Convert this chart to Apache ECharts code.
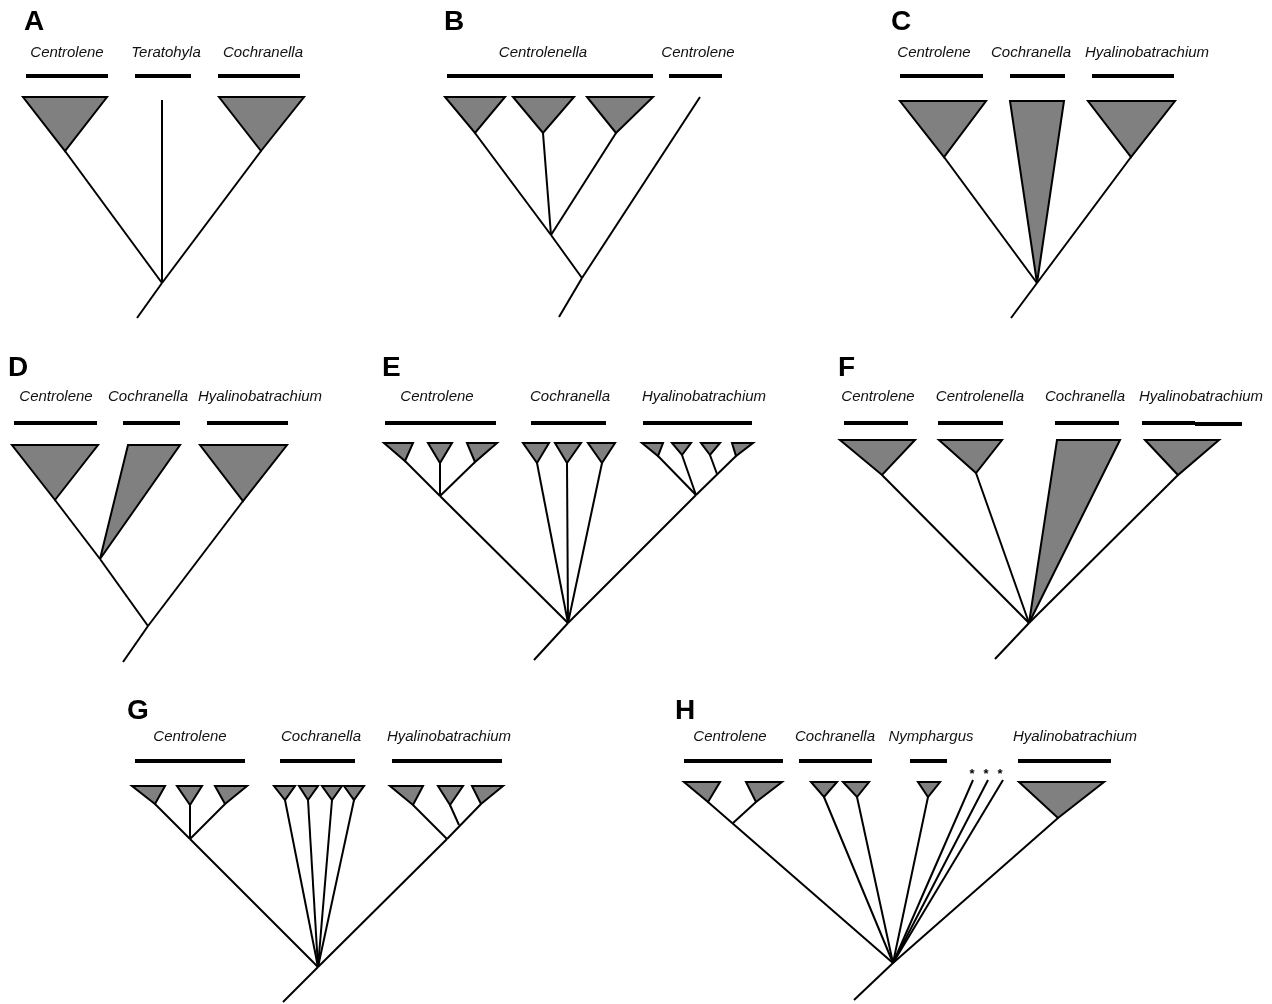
<!DOCTYPE html>
<html>
<head>
<meta charset="utf-8">
<script src="https://cdn.jsdelivr.net/npm/echarts@6/dist/echarts.min.js"></script>
<style>
  html, body { margin: 0; padding: 0; background: #fff; }
  #main { width: 1272px; height: 1004px; }
</style>
</head>
<body>
<div id="main"></div>
<script>
// figure is laid out in its own units: x 0..1272, y 0..1004 (y grows downward)

// panel letters: [letter, left x, centre y]
const panelLetters = [
  ['A', 24, 22], ['B', 444, 22], ['C', 891, 22],
  ['D', 8, 368], ['E', 382, 368], ['F', 838, 368],
  ['G', 127, 711], ['H', 675, 711]
];

// genus names: [name, centre x, centre y]
const genusA = [['Centrolene', 67, 53], ['Teratohyla', 166, 53], ['Cochranella', 263, 53]];
const genusB = [['Centrolenella', 543, 53], ['Centrolene', 698, 53]];
const genusC = [['Centrolene', 934, 53], ['Cochranella', 1031, 53], ['Hyalinobatrachium', 1147, 53]];
const genusD = [['Centrolene', 56, 397], ['Cochranella', 148, 397], ['Hyalinobatrachium', 260, 397]];
const genusE = [['Centrolene', 437, 397], ['Cochranella', 570, 397], ['Hyalinobatrachium', 704, 397]];
const genusF = [['Centrolene', 878, 397], ['Centrolenella', 980, 397], ['Cochranella', 1085, 397], ['Hyalinobatrachium', 1201, 397]];
const genusG = [['Centrolene', 190, 737], ['Cochranella', 321, 737], ['Hyalinobatrachium', 449, 737]];
const genusH = [['Centrolene', 730, 737], ['Cochranella', 835, 737], ['Nymphargus', 931, 737], ['Hyalinobatrachium', 1075, 737]];

// genus bars: [x start, x end, y]
const barsA = [[26, 108, 76], [135, 191, 76], [218, 300, 76]];
const barsB = [[447, 653, 76], [669, 722, 76]];
const barsC = [[900, 983, 76], [1010, 1065, 76], [1092, 1174, 76]];
const barsD = [[14, 97, 423], [123, 180, 423], [207, 288, 423]];
const barsE = [[385, 496, 423], [531, 606, 423], [643, 752, 423]];
const barsF = [[844, 908, 423], [938, 1003, 423], [1055, 1119, 423], [1142, 1195, 423], [1195, 1242, 424]];
const barsG = [[135, 245, 761], [280, 355, 761], [392, 502, 761]];
const barsH = [[684, 783, 761], [799, 872, 761], [910, 947, 761], [1018, 1111, 761]];

// collapsed clades (grey triangles): [left x, right x, top y, apex x, apex y]
const cladesA = [[23, 107, 97, 65, 151], [219, 304, 97, 261, 151]];
const cladesB = [[445, 505, 97, 475, 133], [513, 574, 97, 543, 133], [587, 653, 97, 616, 133]];
const cladesC = [[900, 986, 101, 944, 157], [1010, 1064, 101, 1037, 283], [1088, 1175, 101, 1131, 157]];
const cladesD = [[12, 98, 445, 55, 500], [128, 180, 445, 100, 559], [200, 287, 445, 243, 501]];
const cladesE = [
  [384, 413, 443, 405, 461], [428, 452, 443, 440, 463], [467, 497, 443, 475, 462],
  [523, 549, 443, 537, 463], [555, 581, 443, 567, 463], [588, 615, 443, 602, 463],
  [642, 663, 443, 658, 456], [672, 691, 443, 682, 455], [701, 720, 443, 710, 455], [732, 753, 443, 736, 456]
];
const cladesF = [[840, 915, 440, 882, 475], [939, 1002, 440, 976, 473], [1057, 1120, 440, 1029, 623], [1145, 1219, 440, 1178, 475]];
const cladesG = [
  [132, 165, 786, 155, 804], [177, 202, 786, 190, 805], [215, 247, 786, 225, 804],
  [274, 295, 786, 285, 800], [299, 318, 786, 308, 800], [322, 342, 786, 332, 800], [344, 364, 786, 354, 800],
  [390, 423, 786, 413, 805], [438, 463, 786, 450, 805], [472, 503, 786, 481, 804]
];
const cladesH = [
  [684, 720, 782, 708, 802], [746, 782, 782, 756, 802],
  [811, 837, 782, 824, 797], [843, 869, 782, 857, 797],
  [918, 940, 782, 928, 797],
  [1019, 1104, 782, 1058, 818]
];

// branches: [x1, y1, x2, y2]
const branchesA = [[65, 151, 162, 283], [261, 151, 162, 283], [162, 100, 162, 283], [162, 283, 137, 318]];
const branchesB = [[475, 133, 551, 235], [543, 133, 551, 235], [616, 133, 551, 235], [551, 235, 582, 278], [700, 97, 582, 278], [582, 278, 559, 317]];
const branchesC = [[944, 157, 1037, 283], [1131, 157, 1037, 283], [1037, 283, 1011, 318]];
const branchesD = [[55, 500, 100, 559], [100, 559, 148, 626], [243, 501, 148, 626], [148, 626, 123, 662]];
const branchesE = [
  [405, 461, 440, 496], [440, 463, 440, 496], [475, 462, 440, 496], [440, 496, 568, 623],
  [537, 463, 568, 623], [567, 463, 568, 623], [602, 463, 568, 623],
  [658, 456, 696, 495], [682, 455, 696, 495], [710, 455, 717, 474], [736, 456, 696, 495], [696, 495, 568, 623],
  [568, 623, 534, 660]
];
const branchesF = [[882, 475, 1029, 623], [976, 473, 1029, 623], [1178, 475, 1029, 623], [1029, 623, 995, 659]];
const branchesG = [
  [155, 804, 190, 839], [190, 805, 190, 839], [225, 804, 190, 839], [190, 839, 318, 967],
  [285, 800, 318, 967], [308, 800, 318, 967], [332, 800, 318, 967], [354, 800, 318, 967],
  [413, 805, 447, 839], [450, 805, 459, 825], [481, 804, 447, 839], [447, 839, 318, 967],
  [318, 967, 283, 1002]
];
const branchesH = [
  [708, 802, 893, 963], [756, 802, 733, 823],
  [824, 797, 893, 963], [857, 797, 893, 963],
  [928, 797, 893, 963],
  [973, 780, 893, 963], [988, 780, 893, 963], [1003, 780, 893, 963],
  [1058, 818, 893, 963],
  [893, 963, 854, 1000]
];

// unplaced taxa marks in H: [x, y]
const asterisksH = [[972, 774], [986, 774], [1000, 774]];

const genusLabels = [].concat(genusA, genusB, genusC, genusD, genusE, genusF, genusG, genusH);
const genusBars = [].concat(barsA, barsB, barsC, barsD, barsE, barsF, barsG, barsH);
const clades = [].concat(cladesA, cladesB, cladesC, cladesD, cladesE, cladesF, cladesG, cladesH);
const branches = [].concat(branchesA, branchesB, branchesC, branchesD, branchesE, branchesF, branchesG, branchesH);

const chart = echarts.init(document.getElementById('main'));

const option = {
  animation: false,
  backgroundColor: '#ffffff',
  grid: { left: 0, right: 0, top: 0, bottom: 0 },
  xAxis: { type: 'value', min: 0, max: 1272, show: false },
  yAxis: { type: 'value', min: 0, max: 1004, inverse: true, show: false },
  series: [
    {
      // grey collapsed clades
      type: 'custom',
      clip: false,
      data: clades,
      encode: { x: [0, 1, 3], y: [2, 4] },
      renderItem: (params, api) => {
        const a = api.coord([api.value(0), api.value(2)]);
        const b = api.coord([api.value(1), api.value(2)]);
        const c = api.coord([api.value(3), api.value(4)]);
        return {
          type: 'polygon',
          shape: { points: [a, b, c] },
          style: { fill: '#808080', stroke: '#000', lineWidth: 2, lineJoin: 'miter', miterLimit: 4 }
        };
      }
    },
    {
      // branches
      type: 'custom',
      clip: false,
      data: branches,
      encode: { x: [0, 2], y: [1, 3] },
      renderItem: (params, api) => {
        const p1 = api.coord([api.value(0), api.value(1)]);
        const p2 = api.coord([api.value(2), api.value(3)]);
        return {
          type: 'line',
          shape: { x1: p1[0], y1: p1[1], x2: p2[0], y2: p2[1] },
          style: { stroke: '#000', lineWidth: 2 }
        };
      }
    },
    {
      // genus bars
      type: 'custom',
      clip: false,
      data: genusBars,
      encode: { x: [0, 1], y: 2 },
      renderItem: (params, api) => {
        const p1 = api.coord([api.value(0), api.value(2)]);
        const p2 = api.coord([api.value(1), api.value(2)]);
        return {
          type: 'line',
          shape: { x1: p1[0], y1: p1[1], x2: p2[0], y2: p2[1] },
          style: { stroke: '#000', lineWidth: 4 }
        };
      }
    },
    {
      // genus names
      type: 'custom',
      clip: false,
      data: genusLabels.map(d => [d[1], d[2]]),
      encode: { x: 0, y: 1 },
      renderItem: (params, api) => {
        const p = api.coord([api.value(0), api.value(1)]);
        return {
          type: 'text',
          x: p[0],
          y: p[1],
          style: {
            text: genusLabels[params.dataIndex][0],
            fill: '#111',
            font: 'italic 15px "Liberation Sans", Arial, sans-serif',
            align: 'center',
            verticalAlign: 'middle'
          }
        };
      }
    },
    {
      // asterisks
      type: 'custom',
      clip: false,
      data: asterisksH,
      encode: { x: 0, y: 1 },
      renderItem: (params, api) => {
        const p = api.coord([api.value(0), api.value(1)]);
        return {
          type: 'text',
          x: p[0],
          y: p[1],
          style: {
            text: '*',
            fill: '#000',
            font: 'bold 13px "Liberation Sans", Arial, sans-serif',
            align: 'center',
            verticalAlign: 'middle'
          }
        };
      }
    },
    {
      // panel letters
      type: 'custom',
      clip: false,
      data: panelLetters.map(d => [d[1], d[2]]),
      encode: { x: 0, y: 1 },
      renderItem: (params, api) => {
        const p = api.coord([api.value(0), api.value(1)]);
        return {
          type: 'text',
          x: p[0],
          y: p[1],
          style: {
            text: panelLetters[params.dataIndex][0],
            fill: '#000',
            font: 'bold 28px "Liberation Sans", Arial, sans-serif',
            align: 'left',
            verticalAlign: 'middle'
          }
        };
      }
    }
  ]
};

chart.setOption(option);

window.addEventListener('resize', () => chart.resize());
</script>
</body>
</html>
